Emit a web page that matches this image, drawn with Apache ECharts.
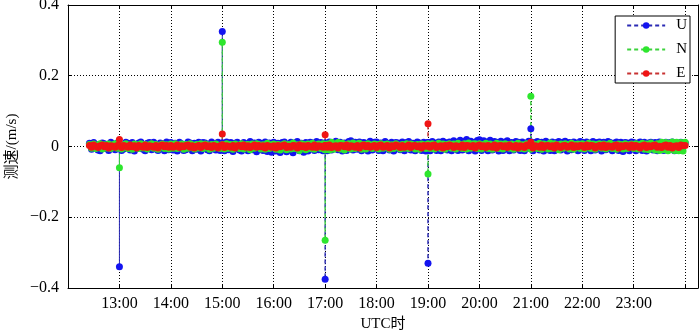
<!DOCTYPE html>
<html>
<head>
<meta charset="utf-8">
<script src="https://cdn.jsdelivr.net/npm/echarts@6/dist/echarts.min.js"></script>
<style>
  html, body { margin: 0; padding: 0; background: #fff; }
  #chart { width: 700px; height: 332px; }
</style>
</head>
<body>
<div id="chart"></div>
<script>
// sampling: first point 12:25, one point every 2.5 minutes up to 24:00
const startMin = 745
const stepMin = 2.5

// background noise (m/s), one row per hour
const noiseU = [
  .009, -.008, .011, .006, -.010, -.012, .010, .008, -.006, -.011, .012, .007, -.009, .010,
  .008, -.011, -.007, .012, .009, -.010, .011, -.013, -.006, .010, .013, -.008, -.012, .009, .011, -.009, .012, -.007, -.011, .010, .008, -.012, .013, -.009,
  .011, -.010, .009, -.013, .012, .008, -.011, -.009, .013, .010, -.012, .009, -.008, .012, -.013, .011, .010, -.009, -.012, .013, .008, -.010, .012, -.011,
  .010, -.012, .013, -.009, .011, -.014, .009, .012, -.010, -.013, .011, .008, -.012, .014, -.009, .010, -.015, .012, .009, -.011, .013, -.014, .010, -.016,
  .012, -.013, .009, -.017, .011, .013, -.015, -.010, .012, -.018, .010, .014, -.012, .009, -.016, .011, -.013, .012, .010, -.011, .014, -.009, .011, -.012,
  .010, -.012, .013, -.010, .011, .015, -.009, .012, -.013, .010, -.011, .014, .016, -.010, .012, -.008, .013, -.012, .011, .009, -.013, .015, -.010, .012,
  .013, -.011, .010, -.012, .014, .009, -.010, .012, -.013, .011, .010, -.009, .013, -.012, .011, .014, -.010, .009, -.012, .013, .010, -.011, .012, -.013,
  .011, -.012, .014, .010, -.011, .013, -.012, .015, .011, -.010, .013, -.012, .016, .012, -.011, .018, -.010, .014, .020, -.012, .015, .011, -.013, .017,
  .019, -.011, .016, .013, -.012, .018, -.010, .014, .012, -.013, .015, -.011, .013, .016, -.012, .011, -.010, .014, .012, -.011, .013, -.012, .010, .015,
  .013, -.012, .011, .014, -.010, .012, -.013, .015, .010, -.011, .013, -.012, .011, .014, -.010, .012, .015, -.013, .011, -.009, .013, .010, -.012, .014,
  .012, -.011, .013, .010, -.012, .014, -.010, .011, .013, -.013, .012, -.009, .014, .011, -.012, .010, .013, -.011, .012, -.014, .011, .010, -.012, .013,
  .011, -.012, .010, .013, -.011, .012, -.013, .010, .012, -.010, .011, -.012, .013, .009, -.011, .012, -.010, .011, .013, -.012, .010, -.011, .012, .009,
  .010
]
const noiseN = [
  .006, -.005, .007, -.006, .004, .008, -.007, .005, -.004, .007, -.006, .005, .008, -.005,
  .006, -.007, .005, .008, -.006, .004, -.008, .007, .005, -.006, .008, -.004, .006, -.007, .005, .008, -.005, .006, -.008, .004, .007, -.006, .005, -.007,
  .007, -.005, .008, -.006, .004, .007, -.008, .006, -.005, .008, .005, -.007, .006, -.004, .008, -.006, .007, .005, -.008, .006, -.005, .007, .004, -.006,
  .005, -.007, .008, -.005, .006, -.008, .007, .004, -.006, .008, -.007, .005, .006, -.009, .007, -.005, .008, .006, -.007, .005, -.008, .009, -.006, .005,
  .007, -.008, .006, -.010, .005, .008, -.009, .006, -.007, .010, -.006, .005, -.011, .008, .006, -.009, .007, -.006, .009, -.008, .005, .007, -.006, .008,
  -.009, .007, -.010, .012, -.008, .006, .011, -.007, .009, -.010, .006, .008, -.007, .010, -.006, .007, .009, -.008, .006, -.007, .008, .005, -.006, .007,
  .006, -.007, .008, -.005, .006, .007, -.008, .005, -.006, .008, .004, -.007, .006, -.005, .008, -.006, .007, .005, -.007, .006, -.008, .007, .005, -.006,
  .007, -.006, .008, -.007, .005, .009, -.006, .007, -.008, .006, .008, -.005, .007, -.007, .009, .006, -.006, .008, -.007, .010, -.005, .007, .008, -.006,
  .008, -.007, .006, .009, -.006, .007, -.008, .005, .009, -.006, .007, -.007, .008, .006, -.005, .007, -.008, .006, .009, -.006, .005, -.007, .008, .006,
  -.007, .008, .006, -.006, .009, -.008, .007, .005, -.007, .010, -.006, .008, .006, -.009, .007, -.005, .008, .006, -.007, .009, -.008, .006, .007, -.006,
  .008, -.007, .005, .009, -.006, .007, -.008, .006, .008, -.005, .007, -.007, .006, .009, -.006, .005, -.008, .007, .006, -.007, .008, -.006, .005, .007,
  -.006, .008, -.007, .006, .009, -.008, .007, -.009, .010, .006, -.010, .008, -.011, .012, -.009, .011, -.012, .010, .013, -.011, .012, -.012, .011, -.013,
  .012
]
const noiseE = [
  .003, -.002, .004, .001, -.003, .002, .004, -.001, .003, -.004, .002, .001, -.002, .003,
  .002, -.003, .003, .001, -.002, .004, -.001, .002, -.004, .003, .001, -.002, .004, -.003, .002, .001, -.002, .003, -.004, .002, .004, -.001, .003, -.002,
  .003, -.002, .001, .004, -.003, .002, -.001, .003, .004, -.002, .002, -.004, .001, .003, -.003, .002, .004, -.001, .002, -.003, .003, .001, -.004, .002,
  .004, -.003, .002, .001, -.002, .003, -.004, .002, .003, -.001, .004, -.002, .002, -.003, .001, .004, -.002, .003, -.001, .002, -.004, .003, .001, -.002,
  .002, -.004, .003, -.001, .002, .004, -.003, .001, -.002, .003, .002, -.004, .004, -.001, .002, -.003, .003, .001, -.002, .004, -.003, .002, .001, -.002,
  .003, -.002, .004, -.003, .001, .002, -.004, .003, .002, -.001, .004, -.003, .002, .001, -.002, .003, -.004, .002, .004, -.001, .003, -.002, .001, .003,
  -.003, .002, .004, -.002, .001, .003, -.004, .002, -.001, .004, .002, -.003, .003, -.002, .001, .004, -.003, .002, .003, -.001, .002, -.004, .003, .001,
  .002, -.002, .003, .004, -.003, .001, .002, -.004, .003, -.001, .004, .002, -.003, .002, .001, -.002, .004, -.003, .003, .002, -.001, .003, -.004, .002,
  .004, -.001, .002, -.003, .003, .001, -.002, .004, -.004, .002, .003, -.001, .002, -.003, .004, .001, -.002, .003, -.004, .002, .001, -.003, .004, .002,
  .003, -.004, .002, .001, -.002, .004, -.003, .002, .003, -.001, .002, -.004, .004, .001, -.003, .002, .003, -.002, .001, .004, -.003, .002, -.001, .003,
  .002, -.003, .004, -.001, .003, .002, -.004, .001, .003, -.002, .004, -.003, .002, .001, -.002, .003, .004, -.004, .002, -.001, .003, .002, -.003, .004,
  -.002, .003, .001, -.004, .002, .004, -.003, .002, -.001, .003, .004, -.002, .001, -.003, .002, .004, -.002, .003, -.004, .001, .002, -.003, .004, .002,
  .003
]

// outliers at the full hours
const spikeHours = [13, 15, 17, 19, 21]
const spikeU = [-0.34, 0.325, -0.375, -0.33, 0.05]
const spikeN = [-0.06, 0.295, -0.265, -0.078, 0.142]
const spikeE = [0.02, 0.035, 0.033, 0.064, 0.012]

const names = ['U', 'N', 'E']
const markColor = ['#1414f0', '#2ee62e', '#f01414']
const lineColor = ['#2a2ab4', '#3cd23c', '#c83232']

function buildSeries (noise, spikes) {
  let out = []
  noise.forEach((v, i) => {
    let m = startMin + i * stepMin
    out.push([m / 60, v])
    let k = spikeHours.indexOf(m / 60)
    if (k >= 0) {
      out.push([m / 60, spikes[k]])
      out.push([m / 60, v])
    }
  })
  return out
}

const font = "'Liberation Serif', 'Noto Sans CJK SC', serif"
const dotted = { show: true, lineStyle: { color: '#000', type: [1, 2], width: 1 } }
const frameLine = { show: true, onZero: false, lineStyle: { color: '#000', width: 1 } }
const innerTick = { show: true, inside: true, length: 4, lineStyle: { color: '#000' } }

let chart = echarts.init(document.getElementById('chart'))
let option = {
  animation: false,
  backgroundColor: '#fff',
  grid: { left: 68, right: 2, top: 5, bottom: 44, containLabel: false, outerBoundsMode: 'none' },
  legend: {
    data: names,
    orient: 'vertical',
    right: 10,
    top: 16,
    backgroundColor: '#fff',
    borderColor: '#000',
    borderWidth: 1,
    borderRadius: 0,
    padding: [2, 3, 2, 11],
    itemGap: 9,
    itemWidth: 38,
    itemHeight: 8,
    textStyle: { fontFamily: font, fontSize: 15, color: '#000', padding: [0, 0, 0, 6] }
  },
  xAxis: [{
    type: 'value',
    min: 12,
    max: 24.25,
    interval: 1,
    name: 'UTC时',
    nameLocation: 'middle',
    nameGap: 28,
    nameTextStyle: { fontFamily: font, fontSize: 15, color: '#000' },
    axisLine: frameLine,
    axisTick: innerTick,
    splitLine: dotted,
    axisLabel: {
      fontFamily: font,
      fontSize: 16,
      color: '#000',
      margin: 8,
      formatter: v => (v < 13 || v > 23) ? '' : v + ':00'
    }
  }, {
    type: 'value',
    position: 'top',
    min: 12,
    max: 24.25,
    interval: 1,
    axisLine: frameLine,
    axisTick: innerTick,
    axisLabel: { show: false },
    splitLine: { show: false }
  }],
  yAxis: [{
    type: 'value',
    min: -0.4,
    max: 0.4,
    interval: 0.2,
    name: '测速/(m/s)',
    nameLocation: 'middle',
    nameGap: 48,
    nameTextStyle: { fontFamily: font, fontSize: 15, color: '#000' },
    axisLine: frameLine,
    axisTick: innerTick,
    splitLine: dotted,
    axisLabel: {
      fontFamily: font,
      fontSize: 16,
      color: '#000',
      margin: 9,
      formatter: v => {
        let r = Math.round(v * 10) / 10
        if (r === 0) return '0'
        return (r < 0 ? '\u2212' : '') + Math.abs(r).toFixed(1)
      }
    }
  }, {
    type: 'value',
    position: 'right',
    min: -0.4,
    max: 0.4,
    interval: 0.2,
    axisLine: frameLine,
    axisTick: innerTick,
    axisLabel: { show: false },
    splitLine: { show: false }
  }],
  series: [
    [noiseU, spikeU],
    [noiseN, spikeN],
    [noiseE, spikeE]
  ].map((pair, i) => ({
    name: names[i],
    type: 'line',
    data: buildSeries(pair[0], pair[1]),
    symbol: 'circle',
    symbolSize: 7,
    showSymbol: true,
    showAllSymbol: true,
    lineStyle: { type: [4, 3], width: 1, color: lineColor[i] },
    itemStyle: { color: markColor[i] },
    emphasis: { disabled: true }
  }))
}
chart.setOption(option)
</script>
</body>
</html>
